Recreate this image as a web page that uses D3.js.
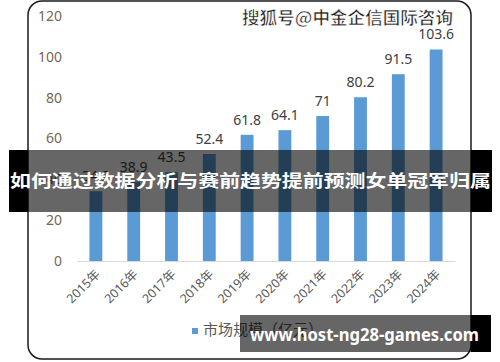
<!DOCTYPE html>
<html>
<head>
<meta charset="utf-8">
<script src="https://cdn.jsdelivr.net/npm/d3@7"></script>
<style>
  html, body { margin: 0; padding: 0; background: #fff; }
  svg { display: block; }
</style>
</head>
<body>
<div id="chart"></div>
<script>
// chart data
var years = ["2015年", "2016年", "2017年", "2018年", "2019年", "2020年", "2021年", "2022年", "2023年", "2024年"];
var marketSize = [34.2, 38.9, 43.5, 52.4, 61.8, 64.1, 71, 80.2, 91.5, 103.6];
var yTicks = [0, 20, 40, 60, 80, 100, 120];
var legendLabel = "市场规模（亿元）";
var bannerText = "如何通过数据分析与赛前趋势提前预测女单冠军归属";
var watermark = "搜狐号@中金企信国际咨询";
var siteText = "www.host-ng28-games.com";

var width = 500, height = 362;
var cjk = "'Noto Sans CJK SC', 'Noto Sans', sans-serif";
var num = "'Noto Sans', 'Noto Sans CJK SC', sans-serif";

var svg = d3.select("#chart").append("svg")
    .attr("width", width)
    .attr("height", height);

// panel frame
svg.append("rect")
    .attr("x", 28).attr("y", 1)
    .attr("width", 443).attr("height", 358)
    .attr("rx", 14)
    .attr("fill", "#fff")
    .attr("stroke", "#1a1a1a")
    .attr("stroke-width", 1.5);

var x = d3.scaleBand()
    .domain(years)
    .range([77, 455])
    .paddingInner(0.66)
    .paddingOuter(0.33);

var y = d3.scaleLinear()
    .domain([0, 120])
    .range([261, 16]);

// y axis labels (no line)
var yAxis = svg.append("g")
    .attr("transform", "translate(66,0)")
    .call(d3.axisLeft(y).tickValues(yTicks).tickSize(0).tickPadding(4));
yAxis.select(".domain").remove();
yAxis.selectAll("text")
    .attr("fill", "#7a6656")
    .style("font-family", num)
    .style("font-size", "14px");

// bars
svg.selectAll(".bar")
    .data(marketSize)
    .enter().append("rect")
    .attr("class", "bar")
    .attr("x", function (d, i) { return x(years[i]); })
    .attr("width", x.bandwidth())
    .attr("y", function (d) { return y(d); })
    .attr("height", function (d) { return y(0) - y(d); })
    .attr("fill", "#5b9bd5");

// value labels
svg.selectAll(".val")
    .data(marketSize)
    .enter().append("text")
    .attr("class", "val")
    .attr("x", function (d, i) { return x(years[i]) + x.bandwidth() / 2; })
    .attr("y", function (d) { return y(d) - 10; })
    .attr("text-anchor", "middle")
    .attr("fill", "#404040")
    .style("font-family", num)
    .style("font-size", "14px")
    .text(function (d) { return d; });

// x axis
var xAxis = svg.append("g")
    .attr("transform", "translate(0," + y(0) + ")")
    .call(d3.axisBottom(x).tickSize(0).tickPadding(0));
xAxis.select(".domain").attr("stroke", "#d9d9d9").attr("stroke-width", 1.2);
xAxis.selectAll("text")
    .attr("text-anchor", "end")
    .attr("dy", 0)
    .attr("transform", "translate(5,14) rotate(-45)")
    .attr("fill", "#595959")
    .style("font-family", num)
    .style("font-size", "12.5px");

// legend
var legend = svg.append("g").attr("transform", "translate(192,328)");
legend.append("rect").attr("width", 6).attr("height", 6).attr("fill", "#5b9bd5");
legend.append("text")
    .attr("x", 11).attr("y", 7)
    .attr("fill", "#595959")
    .style("font-family", cjk)
    .style("font-size", "15px")
    .text(legendLabel);

// watermark top right
svg.append("text")
    .attr("x", 453).attr("y", 24)
    .attr("text-anchor", "end")
    .attr("fill", "#222")
    .attr("stroke", "#fff")
    .attr("stroke-width", 0.6)
    .style("font-family", cjk)
    .style("font-weight", "bold")
    .style("font-size", "17px")
    .attr("textLength", 211)
    .attr("lengthAdjust", "spacingAndGlyphs")
    .text(watermark);

// overlay banner
svg.append("rect").attr("x", 9).attr("y", 150).attr("width", 19).attr("height", 62).attr("fill", "#000");
svg.append("rect").attr("x", 471).attr("y", 150).attr("width", 21).attr("height", 62).attr("fill", "#000");
svg.append("rect").attr("x", 28).attr("y", 150).attr("width", 443).attr("height", 62).attr("fill", "rgba(0,0,0,0.6)");
svg.append("text")
    .attr("x", 250.5).attr("y", 187)
    .attr("text-anchor", "middle")
    .attr("fill", "#fff")
    .style("font-family", cjk)
    .style("font-weight", "bold")
    .style("font-size", "17px")
    .attr("textLength", 481)
    .attr("lengthAdjust", "spacingAndGlyphs")
    .text(bannerText);

// site box bottom right
svg.append("rect").attr("x", 240).attr("y", 315).attr("width", 231).attr("height", 37).attr("fill", "rgba(0,0,0,0.6)");
svg.append("rect").attr("x", 471).attr("y", 315).attr("width", 20).attr("height", 37).attr("fill", "#000");
svg.append("text")
    .attr("x", 250).attr("y", 341)
    .attr("fill", "#fff")
    .style("font-family", num)
    .style("font-weight", "bold")
    .style("font-size", "18px")
    .attr("textLength", 229)
    .attr("lengthAdjust", "spacingAndGlyphs")
    .text(siteText);
</script>
</body>
</html>
